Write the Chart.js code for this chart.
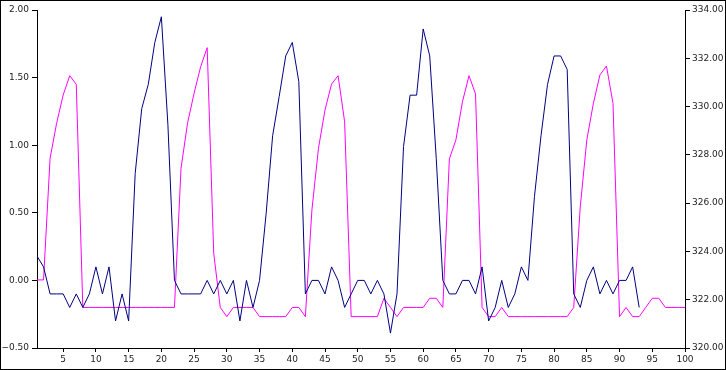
<!DOCTYPE html>
<html>
<head>
<meta charset="utf-8">
<script src="https://cdn.jsdelivr.net/npm/chart.js"></script>
<style>
  html, body { margin: 0; padding: 0; background: #fff; }
  #wrap { width: 724px; height: 368px; border: 1px solid #000; }
</style>
</head>
<body>
<div id="wrap"><canvas id="chart" width="724" height="368"></canvas></div>
<script>
// x positions 1..100
const days = Array.from({ length: 100 }, (_, i) => i + 1);

// navy series, left axis (93 points)
const leftValues = [
  0.18, 0.1, -0.1, -0.1, -0.1, -0.2, -0.1, -0.2, -0.1, 0.1,
  -0.1, 0.1, -0.3, -0.1, -0.3, 0.79, 1.27, 1.45, 1.76, 1.95,
  1.15, 0, -0.1, -0.1, -0.1, -0.1, 0, -0.1, 0, -0.1,
  0, -0.3, 0, -0.2, 0, 0.49, 1.07, 1.36, 1.66, 1.76,
  1.47, -0.1, 0, 0, -0.1, 0.1, 0, -0.2, -0.1, 0,
  0, -0.1, 0, -0.1, -0.39, -0.1, 0.99, 1.37, 1.37, 1.86,
  1.66, 0.9, 0, -0.1, -0.1, 0, 0, -0.1, 0.1, -0.3,
  -0.2, 0, -0.2, -0.1, 0.1, 0, 0.62, 1.07, 1.45, 1.66,
  1.66, 1.56, -0.1, -0.2, 0, 0.1, -0.1, 0, -0.1, 0,
  0, 0.1, -0.2
];

// magenta series, right axis (100 points)
const rightValues = [
  322.82, 322.82, 327.86, 329.31, 330.48, 331.28, 330.92, 321.68, 321.68, 321.68,
  321.68, 321.68, 321.68, 321.68, 321.68, 321.68, 321.68, 321.68, 321.68, 321.68,
  321.68, 321.68, 327.44, 329.31, 330.55, 331.65, 332.44, 323.92, 321.68, 321.30,
  321.68, 321.68, 321.68, 321.68, 321.30, 321.30, 321.30, 321.30, 321.30, 321.68,
  321.68, 321.30, 325.72, 328.27, 329.86, 330.93, 331.28, 329.37, 321.30, 321.30,
  321.30, 321.30, 321.30, 322.06, 321.68, 321.30, 321.68, 321.68, 321.68, 321.68,
  322.06, 322.06, 321.68, 327.83, 328.62, 330.20, 331.28, 330.52, 321.68, 321.30,
  321.30, 321.68, 321.30, 321.30, 321.30, 321.30, 321.30, 321.30, 321.30, 321.30,
  321.30, 321.30, 321.68, 325.85, 328.62, 330.13, 331.31, 331.68, 330.13, 321.30,
  321.68, 321.30, 321.30, 321.68, 322.06, 322.06, 321.68, 321.68, 321.68, 321.68
];

// axis ranges / tick steps
const xTicks = [5, 10, 15, 20, 25, 30, 35, 40, 45, 50, 55, 60, 65, 70, 75, 80, 85, 90, 95, 100];
const leftRange = [-0.5, 2.0];
const rightRange = [320, 334];

const fontSpec = { family: "'DejaVu Sans', sans-serif", size: 9 };
const fmt = v => v.toFixed(2).replace('-', '\u2212');

new Chart(document.getElementById('chart'), {
  type: 'line',
  data: {
    datasets: [
      {
        label: 'left',
        data: leftValues.map((v, i) => ({ x: days[i], y: v })),
        borderColor: '#000080',
        borderWidth: 1,
        pointRadius: 0,
        tension: 0,
        yAxisID: 'y'
      },
      {
        label: 'right',
        data: rightValues.map((v, i) => ({ x: days[i], y: v })),
        borderColor: '#ff00ff',
        borderWidth: 1,
        pointRadius: 0,
        tension: 0,
        yAxisID: 'y1'
      }
    ]
  },
  options: {
    responsive: false,
    animation: false,
    layout: { padding: { top: 9, left: 0, right: 0, bottom: 0 } },
    plugins: {
      legend: { display: false },
      tooltip: { enabled: false }
    },
    scales: {
      x: {
        type: 'linear',
        min: 1,
        max: 100,
        afterBuildTicks: scale => {
          scale.ticks = xTicks.map(v => ({ value: v }));
        },
        afterFit: scale => { scale.height = 21; },
        border: { color: '#000', width: 1 },
        grid: { drawOnChartArea: false, drawTicks: true, tickLength: 4, color: '#000' },
        ticks: { color: '#222', font: fontSpec, padding: 2, maxRotation: 0 }
      },
      y: {
        position: 'left',
        min: leftRange[0],
        max: leftRange[1],
        afterFit: scale => { scale.width = 36; },
        border: { color: '#000', width: 1 },
        grid: { drawOnChartArea: false, drawTicks: true, tickLength: 5, color: '#000' },
        ticks: { stepSize: 0.5, color: '#222', font: fontSpec, padding: 3, callback: fmt }
      },
      y1: {
        position: 'right',
        min: rightRange[0],
        max: rightRange[1],
        afterFit: scale => { scale.width = 40; },
        border: { color: '#000', width: 1 },
        grid: { drawOnChartArea: false, drawTicks: true, tickLength: 5, color: '#000' },
        ticks: { stepSize: 2, color: '#222', font: fontSpec, padding: 2, callback: fmt }
      }
    }
  }
});
</script>
</body>
</html>
